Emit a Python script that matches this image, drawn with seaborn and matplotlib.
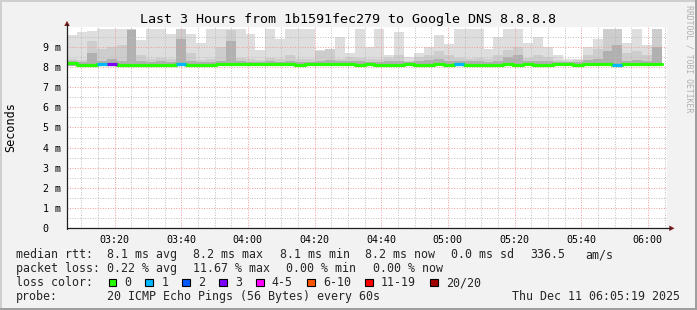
import numpy as np
import pandas as pd
import matplotlib
matplotlib.use("Agg")
import matplotlib.pyplot as plt
import seaborn as sns
from matplotlib.patches import Polygon, Rectangle
from matplotlib.lines import Line2D

# ---------------- data ----------------
first_col_min = 5.75          # minutes after 03:00 of the first column
col_width_min = 2.975
x_window = (5.75, 185.75)     # 03:05:45 .. 06:05:45

median_rtt = [8.18, 8.08, 8.12, 8.16, 8.14, 8.12, 8.10, 8.12, 8.10, 8.12,
              8.12, 8.14, 8.12, 8.12, 8.12, 8.16, 8.14, 8.16, 8.16, 8.16,
              8.16, 8.16, 8.14, 8.12, 8.14, 8.14, 8.16, 8.14, 8.14, 8.12,
              8.14, 8.12, 8.12, 8.12, 8.14, 8.12, 8.12, 8.14, 8.12, 8.14,
              8.12, 8.12, 8.10, 8.12, 8.14, 8.12, 8.14, 8.12, 8.12, 8.14,
              8.14, 8.12, 8.16, 8.14, 8.14, 8.12, 8.16, 8.14, 8.14, 8.16]

min_ping = [8.06, 7.98, 8.02, 8.05, 8.03, 8.02, 8.00, 8.02, 8.00, 8.02,
            8.02, 8.03, 8.02, 8.02, 8.02, 8.05, 8.03, 8.05, 8.05, 8.05,
            8.05, 8.05, 8.03, 8.02, 8.03, 8.03, 8.05, 8.03, 8.03, 8.02,
            8.03, 8.02, 8.02, 8.02, 8.03, 8.02, 8.02, 8.03, 8.02, 8.03,
            8.02, 8.02, 8.00, 8.02, 8.03, 8.02, 8.03, 8.02, 8.02, 8.03,
            8.03, 8.02, 8.05, 8.03, 8.03, 8.02, 8.05, 8.03, 8.03, 8.05]

smoke_max = [9.60, 9.75, 9.80, 9.90, 9.90, 9.90, 9.90, 9.33, 9.90, 9.90,
             9.66, 9.90, 9.66, 9.17, 9.90, 9.90, 9.90, 9.90, 9.66, 8.84,
             9.90, 9.40, 9.90, 9.90, 9.90, 8.84, 8.84, 9.50, 8.70, 9.90,
             9.00, 9.90, 8.60, 9.74, 8.50, 8.70, 9.00, 9.60, 9.15, 9.90,
             9.90, 9.90, 8.90, 9.50, 9.90, 9.90, 9.20, 9.50, 9.00, 8.60,
             8.40, 8.40, 9.00, 9.40, 9.90, 9.90, 9.20, 9.90, 9.10, 9.90]

smoke_mid = [8.40, 8.35, 9.30, 8.90, 9.00, 9.10, 9.90, 8.60, 8.40, 8.45,
             8.40, 9.90, 8.70, 8.35, 8.40, 9.00, 9.85, 8.45, 8.40, 8.35,
             8.45, 8.40, 8.60, 8.40, 8.40, 8.80, 8.90, 8.40, 8.50, 8.45,
             8.40, 8.40, 8.45, 8.60, 8.30, 8.50, 8.60, 8.80, 8.60, 8.45,
             8.40, 8.45, 8.40, 8.60, 8.84, 9.00, 8.45, 8.60, 8.50, 8.35,
             8.30, 8.35, 8.60, 8.90, 9.90, 9.90, 8.70, 8.80, 8.60, 9.90]

smoke_dark = [8.28, 8.25, 8.70, 8.30, 8.40, 8.30, 9.85, 8.28, 8.25, 8.28,
              8.25, 9.40, 8.30, 8.25, 8.25, 8.30, 9.30, 8.28, 8.25, 8.25,
              8.28, 8.25, 8.30, 8.25, 8.25, 8.30, 8.35, 8.28, 8.30, 8.28,
              8.25, 8.25, 8.28, 8.30, 8.25, 8.30, 8.35, 8.40, 8.30, 8.28,
              8.28, 8.30, 8.25, 8.30, 8.50, 8.60, 8.28, 8.30, 8.28, 8.25,
              8.25, 8.25, 8.35, 8.40, 8.80, 9.10, 8.30, 8.35, 8.30, 9.00]

loss_count = [0, 0, 0, 1, 3, 0, 0, 0, 0, 0,
              0, 1, 0, 0, 0, 0, 0, 0, 0, 0,
              0, 0, 0, 0, 0, 0, 0, 0, 0, 0,
              0, 0, 0, 0, 0, 0, 0, 0, 0, 1,
              0, 0, 0, 0, 0, 0, 0, 0, 0, 0,
              0, 0, 0, 0, 0, 1, 0, 0, 0, 0]

loss_labels = ["0", "1", "2", "3", "4-5", "6-10", "11-19", "20/20"]
loss_colors = ["#26ff00", "#00b8ff", "#0059ff", "#7e00ff",
               "#ff00ff", "#ff5500", "#ff0000", "#a10000"]
loss_upper = [0, 1, 2, 3, 5, 10, 19, 20]

x_tick_minutes = [20, 40, 60, 80, 100, 120, 140, 160, 180]
x_tick_labels = ["03:20", "03:40", "04:00", "04:20", "04:40",
                 "05:00", "05:20", "05:40", "06:00"]
x_minor_minutes = [m for m in range(10, 186, 5) if m % 20]
y_ticks = [0, 1, 2, 3, 4, 5, 6, 7, 8, 9]
y_tick_labels = ["0", "1 m", "2 m", "3 m", "4 m", "5 m", "6 m", "7 m", "8 m", "9 m"]
y_minor = [0.5, 1.5, 2.5, 3.5, 4.5, 5.5, 6.5, 7.5, 8.5, 9.5]
y_max = 9.97

title = "Last 3 Hours from 1b1591fec279 to Google DNS 8.8.8.8"
y_label = "Seconds"
rtt_parts = ["median rtt:", "8.1 ms avg", "8.2 ms max", "8.1 ms min",
             "8.2 ms now", "0.0 ms sd", "336.5", "am/s"]
rtt_x = [16, 107.3, 193, 279.5, 365, 451, 530, 585]
loss_parts = ["packet loss:", "0.22 % avg", "11.67 % max", "0.00 % min", "0.00 % now"]
loss_x = [16, 107.3, 193, 286, 372.7]
row_color = "loss color:"
probe_parts = ["probe:", "20 ICMP Echo Pings (56 Bytes) every 60s"]
probe_x = [16, 107.3]
stamp = "Thu Dec 11 06:05:19 2025"
watermark = "RRDTOOL / TOBI OETIKER"

# ---------------- style ----------------
W, H = 697, 310
sns.set_theme(style="white")
plt.rcParams["font.family"] = ["DejaVu Sans Mono", "DejaVu Sans"]
MONO = ["DejaVu Sans Mono", "DejaVu Sans"]

def fx(px):
    return px / W

def fy(py):
    return 1 - py / H

fig = plt.figure(figsize=(W / 100, H / 100), dpi=100, facecolor="#f2f2f2")

ax_left, ax_right, ax_top, ax_bot = 67, 667, 27.3, 228.3
ax = fig.add_axes([fx(ax_left), fy(ax_bot), (ax_right - ax_left) / W, (ax_bot - ax_top) / H])
ax.set_facecolor("white")

n = len(median_rtt)
col_start = first_col_min + col_width_min * np.arange(n)
mn = np.array(min_ping)

# smoke layers
ax.bar(col_start, np.array(smoke_max) - mn, bottom=mn, width=col_width_min,
       align="edge", color="#dedede", linewidth=0, zorder=1)
ax.bar(col_start, np.array(smoke_mid) - mn, bottom=mn, width=col_width_min,
       align="edge", color="#cdcdcd", linewidth=0, zorder=1.1)
ax.bar(col_start, np.array(smoke_dark) - mn, bottom=mn, width=col_width_min,
       align="edge", color="#b0b0b0", linewidth=0, zorder=1.2)

# median line (green) via seaborn
df = pd.DataFrame({"t": np.append(col_start, col_start[-1] + col_width_min),
                   "rtt": median_rtt + [median_rtt[-1]]})
sns.lineplot(data=df, x="t", y="rtt", ax=ax, color=loss_colors[0], lw=2.3,
             drawstyle="steps-post", estimator=None, zorder=3)

# loss-coloured segments
def loss_bin(c):
    for k, up in enumerate(loss_upper):
        if c <= up:
            return k
    return len(loss_upper) - 1

for i, c in enumerate(loss_count):
    if c > 0:
        ax.hlines(median_rtt[i], col_start[i], col_start[i] + col_width_min,
                  colors=loss_colors[loss_bin(c)], lw=2.3, zorder=3.5)

ax.set_xlim(*x_window)
ax.set_ylim(0, y_max)
ax.set_xlabel("")
ax.set_ylabel("")

# grid
ax.set_xticks(x_tick_minutes)
ax.set_xticklabels(x_tick_labels)
ax.set_xticks(x_minor_minutes, minor=True)
ax.set_yticks(y_ticks)
ax.set_yticklabels(y_tick_labels)
ax.set_yticks(y_minor, minor=True)
ax.set_axisbelow(False)
dot = (0, (1.0, 1.6))
ax.grid(True, which="minor", color="#bcbcbc", lw=0.7, linestyle=dot)
ax.grid(True, which="major", color="#ee9a9a", lw=0.7, linestyle=dot)
ax.tick_params(axis="x", which="major", length=0, pad=4.6, labelsize=7.2, colors="black")
ax.tick_params(axis="y", which="major", length=3, width=0.8, color="#1f1f1f",
               pad=14.6, labelsize=7.2, labelcolor="black", direction="out")
for lab in ax.get_yticklabels():
    lab.set_horizontalalignment("left")
ax.tick_params(which="minor", length=0)
for s in ax.spines.values():
    s.set_visible(False)

# axis lines + arrows (figure pixel coordinates)
axis_col = "#1f1f1f"
arrow_col = "#7f1f1f"
fig.add_artist(Line2D([fx(67), fx(67)], [fy(228.8), fy(24)], color=axis_col, lw=0.9))
fig.add_artist(Line2D([fx(66.5), fx(670)], [fy(228.3), fy(228.3)], color=axis_col, lw=0.9))
fig.add_artist(Polygon([[fx(67), fy(20.8)], [fx(64.2), fy(26)], [fx(69.8), fy(26)]],
                       closed=True, color=arrow_col, lw=0))
fig.add_artist(Polygon([[fx(674.5), fy(228.3)], [fx(669.3), fy(225.5)], [fx(669.3), fy(231.1)]],
                       closed=True, color=arrow_col, lw=0))

# frame shading
fig.add_artist(Rectangle((0, fy(2)), 1, 2 / H, transform=fig.transFigure, color="#cfcfcf", lw=0))
fig.add_artist(Rectangle((0, 0), 2 / W, 1, transform=fig.transFigure, color="#cfcfcf", lw=0))
fig.add_artist(Rectangle((0, 0), 1, 2 / H, transform=fig.transFigure, color="#9e9e9e", lw=0))
fig.add_artist(Rectangle((fx(695), 0), 2 / W, 1, transform=fig.transFigure, color="#9e9e9e", lw=0))

# texts
fig.text(fx(348.5), fy(23.3), title, ha="center", va="baseline", fontsize=9.6,
         family=MONO, color="black")
fig.text(fx(11), fy(127), y_label, rotation=90, ha="center", va="center",
         fontsize=8.5, family=MONO, color="black")
fig.text(fx(688.5), fy(59), watermark, rotation=270, ha="center", va="center",
         fontsize=5.9, family=MONO, color="#b0b0b0")

fs = 8.35
cw = 6.97
for txt, x in zip(rtt_parts, rtt_x):
    fig.text(fx(x), fy(258.4), txt, ha="left", va="baseline", fontsize=fs, family=MONO)
for txt, x in zip(loss_parts, loss_x):
    fig.text(fx(x), fy(272.3), txt, ha="left", va="baseline", fontsize=fs, family=MONO)
fig.text(fx(16), fy(286.2), row_color, ha="left", va="baseline", fontsize=fs, family=MONO)
for txt, x in zip(probe_parts, probe_x):
    fig.text(fx(x), fy(300.0), txt, ha="left", va="baseline", fontsize=fs, family=MONO)
fig.text(fx(680.5), fy(300.0), stamp, ha="right", va="baseline", fontsize=fs, family=MONO)

# loss colour legend
sx = 108.5
for lab, col in zip(loss_labels, loss_colors):
    fig.add_artist(Rectangle((fx(sx), fy(286.3)), 7.5 / W, 7.5 / H, transform=fig.transFigure,
                             facecolor=col, edgecolor="black", lw=0.8))
    fig.text(fx(sx + 15.8), fy(286.2), lab, ha="left", va="baseline", fontsize=fs, family=MONO)
    sx = sx + 15.8 + len(lab) * 7.08 + 14.0

fig.savefig("out.png", dpi=100, facecolor=fig.get_facecolor())
